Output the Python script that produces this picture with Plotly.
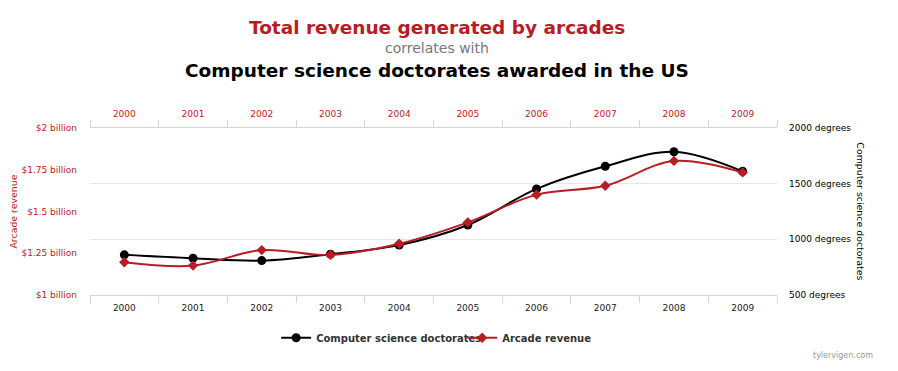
import plotly.graph_objects as go

years = ["2000", "2001", "2002", "2003", "2004", "2005", "2006", "2007", "2008", "2009"]
doctorates = [861, 830, 809, 867, 948, 1129, 1453, 1656, 1787, 1611]
arcade_revenue = [1.196, 1.176, 1.269, 1.240, 1.307, 1.435, 1.601, 1.654, 1.803, 1.734]

left_tickvals = [1.0, 1.25, 1.5, 1.75, 2.0]
left_ticktext = ["$1 billion", "$1.25 billion", "$1.5 billion", "$1.75 billion", "$2 billion"]
right_tickvals = [500, 1000, 1500, 2000]
right_ticktext = ["500 degrees", "1000 degrees", "1500 degrees", "2000 degrees"]

RED = "#b81c25"
FONT = "DejaVu Sans"
AXIS_LINE = "#ccd6eb"

fig = go.Figure()
fig.add_trace(go.Scatter(
    x=years, y=doctorates, name="Computer science doctorates",
    mode="lines+markers", line=dict(color="#000000", width=2, shape="spline", smoothing=1),
    marker=dict(symbol="circle", size=9, color="#000000"),
    xaxis="x", yaxis="y"))
fig.add_trace(go.Scatter(
    x=years, y=arcade_revenue, name="Arcade revenue",
    mode="lines+markers", line=dict(color=RED, width=2, shape="spline", smoothing=1),
    marker=dict(symbol="diamond", size=8, color=RED),
    xaxis="x", yaxis="y2"))
# invisible trace to anchor the top category axis
fig.add_trace(go.Scatter(x=years, y=arcade_revenue, xaxis="x2", yaxis="y2",
                         mode="markers", marker=dict(opacity=0), showlegend=False,
                         hoverinfo="skip"))

fig.update_layout(
    width=890, height=363,
    margin=dict(l=82, r=121, t=120, b=76),
    paper_bgcolor="white", plot_bgcolor="white",
    font=dict(family=FONT, size=9, color="#000"),
    showlegend=True,
    legend=dict(orientation="h", x=0.5417, y=-0.256, xanchor="center", yanchor="middle",
                font=dict(family=FONT, size=10, color="#333333", weight="bold"),
                itemwidth=30, tracegroupgap=0, entrywidth=141),
    xaxis=dict(type="category", categoryarray=years, range=[-0.5, 9.5],
               showline=True, linecolor=AXIS_LINE, linewidth=1,
               ticks="outside", tickson="boundaries", ticklen=7, tickcolor=AXIS_LINE,
               ticklabelstandoff=4,
               showgrid=False, tickfont=dict(family=FONT, size=9, color="#222")),
    xaxis2=dict(type="category", categoryarray=years, range=[-0.5, 9.5], overlaying="x",
                side="top", anchor="y",
                showline=True, linecolor=AXIS_LINE, linewidth=1,
                ticks="outside", tickson="boundaries", ticklen=7, tickcolor=AXIS_LINE,
                ticklabelstandoff=6,
                showgrid=False, tickfont=dict(family=FONT, size=9, color=RED)),
    yaxis=dict(side="right", range=[500, 2000], tickvals=right_tickvals, ticktext=right_ticktext,
               showgrid=True, gridcolor="#e6e6e6", zeroline=False, showline=False,
               ticks="", ticklabelstandoff=11,
               tickfont=dict(family=FONT, size=9, color="#000")),
    yaxis2=dict(side="left", overlaying="y", range=[1.0, 2.0], tickvals=left_tickvals,
                ticktext=left_ticktext, showgrid=False, zeroline=False, showline=False,
                ticks="", ticklabelstandoff=12,
                tickfont=dict(family=FONT, size=9, color=RED)),
    annotations=[
        dict(text="<b>Total revenue generated by arcades</b>", xref="paper", yref="paper",
             x=0.505, y=1.601, xanchor="center", yanchor="middle", showarrow=False,
             font=dict(family=FONT, size=18.5, color=RED)),
        dict(text="correlates with", xref="paper", yref="paper",
             x=0.505, y=1.482, xanchor="center", yanchor="middle", showarrow=False,
             font=dict(family=FONT, size=14, color="#777777")),
        dict(text="<b>Computer science doctorates awarded in the US</b>", xref="paper", yref="paper",
             x=0.505, y=1.345, xanchor="center", yanchor="middle", showarrow=False,
             font=dict(family=FONT, size=18.5, color="#000000")),
        dict(text="Arcade revenue", xref="paper", yref="paper", x=-0.112, y=0.5,
             xanchor="center", yanchor="middle", textangle=-90, showarrow=False,
             font=dict(family=FONT, size=9.4, color=RED)),
        dict(text="Computer science doctorates", xref="paper", yref="paper", x=1.121, y=0.5,
             xanchor="center", yanchor="middle", textangle=90, showarrow=False,
             font=dict(family=FONT, size=9.4, color="#000000")),
        dict(text="tylervigen.com", xref="paper", yref="paper", x=(843 - 90) / 687, y=-0.363,
             xanchor="center", yanchor="middle", showarrow=False,
             font=dict(family=FONT, size=8, color="#999999")),
    ],
)

fig.write_html("out.html")
